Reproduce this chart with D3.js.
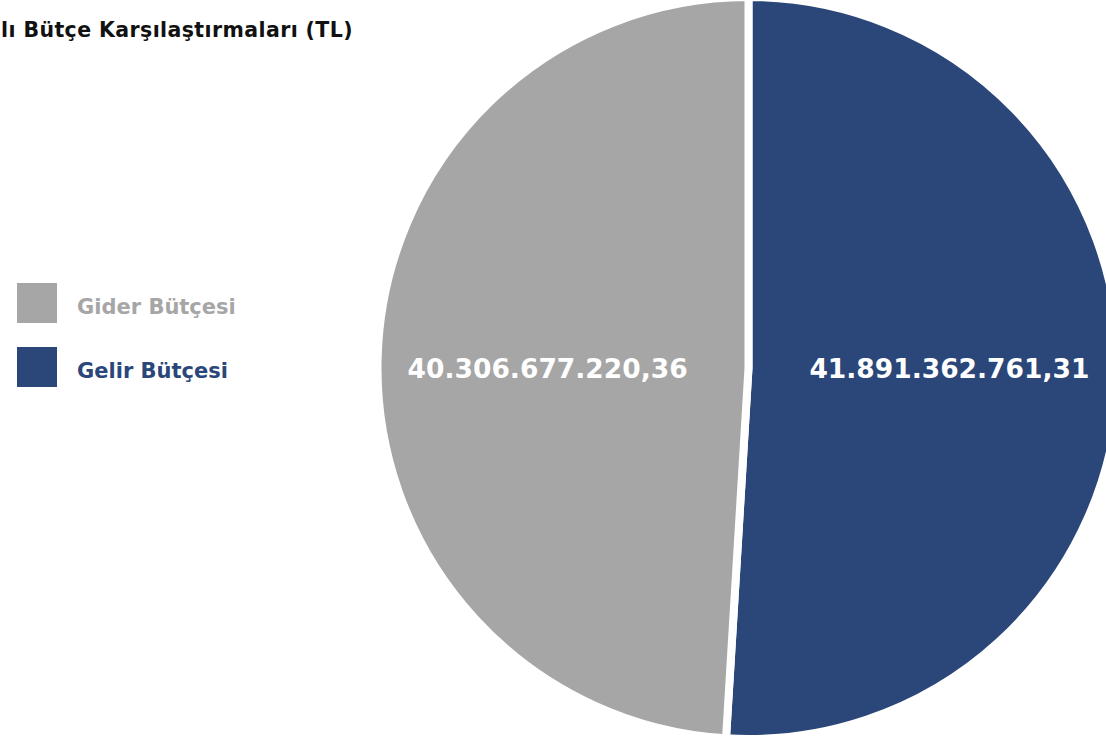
<!DOCTYPE html>
<html>
<head>
<meta charset="utf-8">
<script src="https://cdn.jsdelivr.net/npm/d3@7"></script>
<style>
  html, body { margin: 0; padding: 0; background: #ffffff; overflow: hidden; }
  svg { display: block; }
</style>
</head>
<body>
<svg id="chart" width="1106" height="740"></svg>
<script>
const titleText = "Yılı Bütçe Karşılaştırmaları (TL)";
const categories = ["Gelir Bütçesi", "Gider Bütçesi"];
const values = [41891362761.31, 40306677220.36];
const colors = ["#2b4679", "#a6a6a6"];
const legendOrder = ["Gider Bütçesi", "Gelir Bütçesi"];

const W = 1106, H = 740;
const cx = 748.5, cy = 368, R = 371;
const font = "'DejaVu Sans', sans-serif";

const trLocale = d3.formatLocale({ decimal: ",", thousands: ".", grouping: [3], currency: ["", " TL"] });
const fmt = trLocale.format(",.2f");

const data = categories.map((c, i) => ({ name: c, value: values[i], color: colors[i] }));

const svg = d3.select("#chart");

// Title (left part clipped by the page edge, as in the reference)
svg.append("text")
  .attr("x", 353).attr("y", 36.5)
  .attr("text-anchor", "end")
  .attr("font-family", font)
  .attr("font-weight", 700)
  .attr("font-size", 20.5)
  .attr("letter-spacing", 0.4)
  .attr("fill", "#111111")
  .text(titleText);

// Pie
const pie = d3.pie().sort(null).value(d => d.value);
const arc = d3.arc().innerRadius(0).outerRadius(R);
const labelArc = d3.arc().innerRadius(201).outerRadius(201);
const arcs = pie(data);

const g = svg.append("g").attr("transform", `translate(${cx},${cy})`);
g.selectAll("path.slice")
  .data(arcs)
  .join("path")
  .attr("class", "slice")
  .attr("d", arc)
  .attr("fill", d => d.data.color)
  .attr("stroke", "#ffffff")
  .attr("stroke-width", 8)
  .attr("stroke-linejoin", "round");

g.selectAll("text.val")
  .data(arcs)
  .join("text")
  .attr("class", "val")
  .attr("x", d => labelArc.centroid(d)[0])
  .attr("y", 0)
  .attr("dy", "0.36em")
  .attr("text-anchor", "middle")
  .attr("font-family", font)
  .attr("font-weight", 700)
  .attr("font-size", 26.5)
  .attr("fill", "#ffffff")
  .text(d => fmt(d.data.value));

// Legend
const legendY = d3.scalePoint().domain(legendOrder).range([283, 347]);
const colorOf = d3.scaleOrdinal().domain(categories).range(colors);
const lg = svg.append("g");
const items = lg.selectAll("g.item")
  .data(legendOrder)
  .join("g")
  .attr("class", "item")
  .attr("transform", d => `translate(17,${legendY(d)})`);
items.append("rect")
  .attr("width", 40).attr("height", 40)
  .attr("fill", d => colorOf(d));
items.append("text")
  .attr("x", 60).attr("y", 30.5)
  .attr("font-family", font)
  .attr("font-weight", 700)
  .attr("font-size", 21)
  .attr("fill", d => colorOf(d))
  .text(d => d);
</script>
</body>
</html>
